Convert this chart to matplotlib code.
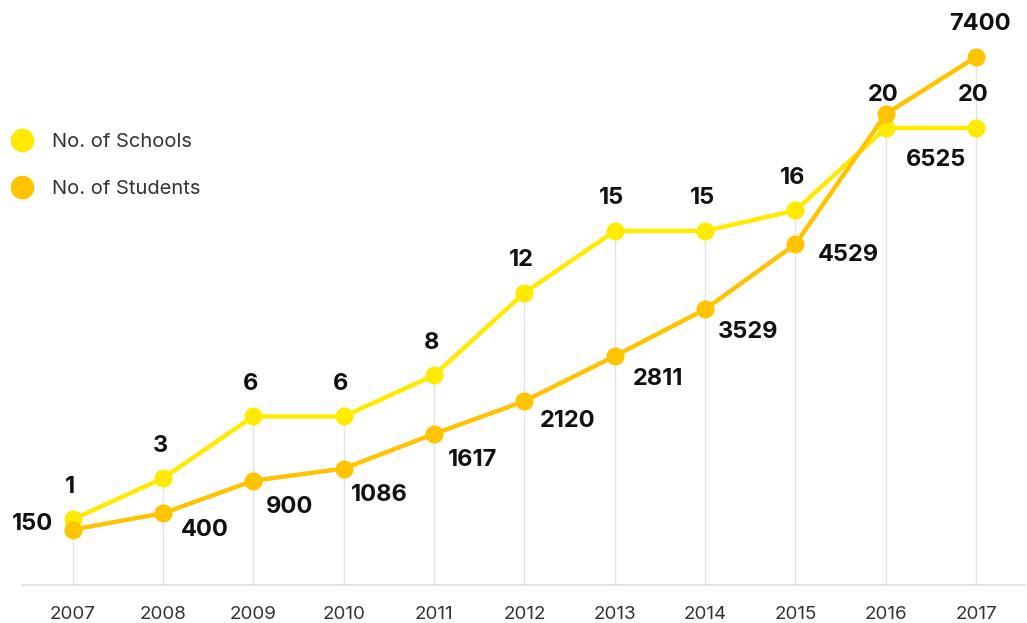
import matplotlib.pyplot as plt
from matplotlib.lines import Line2D

years = [2007, 2008, 2009, 2010, 2011, 2012, 2013, 2014, 2015, 2016, 2017]
schools = [1, 3, 6, 6, 8, 12, 15, 15, 16, 20, 20]
students = [150, 400, 900, 1086, 1617, 2120, 2811, 3529, 4529, 6525, 7400]

school_color = '#FFEA00'
student_color = '#FFC400'
plt.rcParams['font.family'] = ['Inter', 'DejaVu Sans']

fig = plt.figure(figsize=(10.27, 6.23), dpi=100)
ax = fig.add_axes([22 / 1027, 38 / 623, 1003 / 1027, 565 / 623])
ax2 = ax.twinx()

s_lim = (-2.18, 25.24)
t_lim = (-700, 7966)
ax.set_ylim(*s_lim)
ax2.set_ylim(*t_lim)
ax.set_xlim(2006.44, 2017.54)

# drop lines up to the higher of the two points
for x, s, t in zip(years, schools, students):
    fs = (s - s_lim[0]) / (s_lim[1] - s_lim[0])
    ft = (t - t_lim[0]) / (t_lim[1] - t_lim[0])
    ax.axvline(x, ymin=0, ymax=max(fs, ft), color='#e4e4e4', lw=1, zorder=0)

ax.plot(years, schools, color=school_color, lw=3.2, marker='o', ms=12, zorder=3)
ax2.plot(years, students, color=student_color, lw=3.2, marker='o', ms=12, zorder=3)

label_kw = dict(textcoords='offset points', ha='center', va='center',
                fontsize=17, fontweight='bold', color='#111111')
for x, s in zip(years, schools):
    ax.annotate(str(s), (x, s), xytext=(-2, 23.5), **label_kw)

# offsets (points) for the student labels
student_offsets = [(-29, 4), (30, -12), (26, -19), (26, -19), (28, -18.5), (31, -14),
                   (31, -16.5), (31, -16), (38, -8), (36, -33), (3, 24)]
for x, t, off in zip(years, students, student_offsets):
    ax2.annotate(str(t), (x, t), xytext=off, **label_kw)

for a in (ax, ax2):
    for side in ('top', 'right', 'left'):
        a.spines[side].set_visible(False)
    a.set_yticks([])
ax.spines['bottom'].set_color('#e0e0e0')
ax.spines['bottom'].set_linewidth(1.2)
ax2.spines['bottom'].set_visible(False)

ax.set_xticks(years)
ax.set_xticklabels([str(y) for y in years], fontsize=13.5, color='#333333')
ax.tick_params(axis='x', length=0, pad=15)

handles = [Line2D([], [], ls='none', marker='o', ms=16, color=school_color),
           Line2D([], [], ls='none', marker='o', ms=16, color=student_color)]
fig.legend(handles, ['No. of Schools', 'No. of Students'], loc='center left',
           bbox_to_anchor=(0.0, 1 - 165.5 / 623), frameon=False, fontsize=14.5,
           labelcolor='#333333', handlelength=1.6, handletextpad=0.7,
           labelspacing=1.45, borderaxespad=0, borderpad=0.3)

fig.savefig('out.png', dpi=100)
